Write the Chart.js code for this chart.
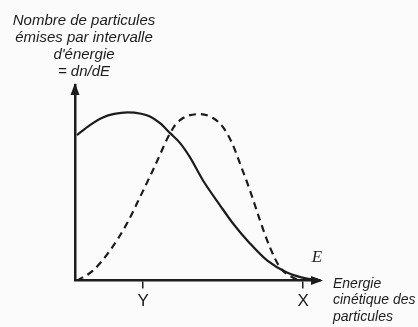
<!DOCTYPE html>
<html lang="fr">
<head>
<meta charset="UTF-8">
<title>Spectre d'énergie</title>
<script src="https://cdn.jsdelivr.net/npm/chart.js"></script>
<style>
  body { margin: 0; background: #fbfbfb; }
  canvas { display: block; }
</style>
</head>
<body>
<canvas id="graf" width="418" height="327"></canvas>
<script>
// courbe continue (x, y) en unités arbitraires 0-100
const continueX = [0.8, 6.1, 11.4, 16.0, 21.5, 27.0, 30.6, 34.7, 38.8, 42.9, 46.9, 52.2, 59.2, 64.5, 71.4, 78.4, 86.5, 94.7, 99.2];
const continueY = [74.4, 79.5, 83.4, 85.2, 86.0, 85.3, 83.9, 80.5, 75.4, 70.3, 63.1, 51.3, 38.5, 29.2, 19.0, 10.3, 4.1, 1.0, 0.5];

// courbe en tirets
const tiretsX = [0.8, 7.3, 14.3, 21.2, 26.5, 31.8, 40.0, 44.1, 51.0, 56.3, 60.4, 64.1, 67.3, 71.4, 75.5, 79.6, 83.7, 89.0, 91.8];
const tiretsY = [0, 5.1, 15.4, 29.2, 42.6, 56.4, 77.9, 83.1, 85.1, 83.1, 78.5, 70.3, 60.0, 46.2, 30.8, 16.9, 6.7, 1.5, 0];

// graduations de l'axe horizontal
const graduations = [27.8, 93.1];
const etiquettes = ['Y', 'X'];

const titreY = ['Nombre de particules', 'émises par intervalle', "d'énergie", '= dn/dE'];
const titreX = ['Energie', 'cinétique des', 'particules'];

const encre = '#1c1c1c';

function points(xs, ys) {
    return xs.map((x, i) => ({ x: x, y: ys[i] }));
}

// flèches des axes et textes
const decor = {
    id: 'decor',
    afterDraw(chart) {
        const ctx = chart.ctx;
        const a = chart.chartArea;
        ctx.save();
        ctx.fillStyle = encre;
        // flèche verticale
        ctx.beginPath();
        ctx.moveTo(a.left, a.top - 2);
        ctx.lineTo(a.left - 4.5, a.top + 10);
        ctx.lineTo(a.left + 4.5, a.top + 10);
        ctx.closePath();
        ctx.fill();
        // flèche horizontale
        ctx.beginPath();
        ctx.moveTo(a.right + 3, a.bottom);
        ctx.lineTo(a.right - 9, a.bottom - 4.5);
        ctx.lineTo(a.right - 9, a.bottom + 4.5);
        ctx.closePath();
        ctx.fill();

        ctx.textBaseline = 'middle';
        ctx.font = 'italic 15px "Liberation Sans", Arial, sans-serif';
        ctx.textAlign = 'center';
        titreY.forEach((t, i) => ctx.fillText(t, 84, 21 + i * 17));

        ctx.font = 'italic 14px "Liberation Sans", Arial, sans-serif';
        ctx.textAlign = 'left';
        titreX.forEach((t, i) => ctx.fillText(t, 333, 284 + i * 16.5));

        ctx.font = 'italic 17px "Liberation Serif", "DejaVu Serif", serif';
        ctx.textAlign = 'center';
        ctx.fillText('E', 317, 258);
        ctx.restore();
    }
};

new Chart(document.getElementById('graf'), {
    type: 'scatter',
    data: {
        datasets: [{
            data: points(continueX, continueY),
            showLine: true,
            borderColor: encre,
            borderWidth: 2.2,
            pointRadius: 0,
            cubicInterpolationMode: 'monotone',
            fill: false
        }, {
            data: points(tiretsX, tiretsY),
            showLine: true,
            borderColor: encre,
            borderWidth: 2.2,
            borderDash: [7, 5],
            pointRadius: 0,
            cubicInterpolationMode: 'monotone',
            fill: false
        }]
    },
    options: {
        responsive: false,
        animation: false,
        events: [],
        layout: { padding: { left: 67, top: 85, right: 98, bottom: 12 } },
        plugins: { legend: { display: false }, tooltip: { enabled: false } },
        scales: {
            x: {
                type: 'linear',
                min: 0,
                max: 100,
                afterBuildTicks: axis => { axis.ticks = graduations.map(v => ({ value: v })); },
                ticks: {
                    autoSkip: false,
                    maxRotation: 0,
                    padding: 3,
                    color: encre,
                    font: { family: '"Liberation Sans", Arial, sans-serif', size: 17 },
                    callback: v => etiquettes[graduations.indexOf(v)]
                },
                grid: { drawOnChartArea: false, tickLength: 8, color: encre, lineWidth: 1.5 },
                border: { display: true, color: encre, width: 2.5 }
            },
            y: {
                type: 'linear',
                min: 0,
                max: 100,
                ticks: { display: false },
                grid: { display: false },
                border: { display: true, color: encre, width: 2.5 }
            }
        }
    },
    plugins: [decor]
});
</script>
</body>
</html>
